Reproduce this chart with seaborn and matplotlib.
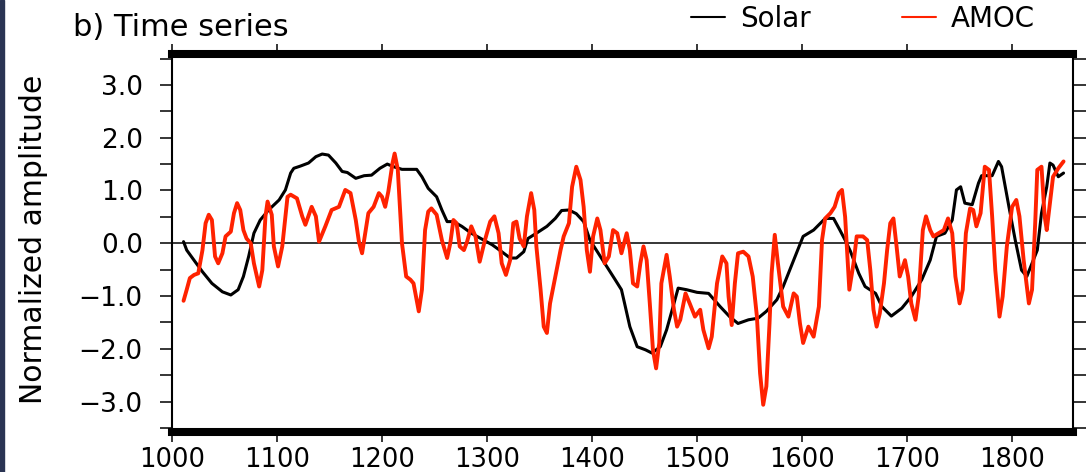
import numpy as np
import pandas as pd
import matplotlib
matplotlib.use("Agg")
import matplotlib.pyplot as plt
import seaborn as sns
from matplotlib.ticker import MultipleLocator, FuncFormatter
from matplotlib.patches import Rectangle

# Solar (чорна крива)
solar_years = [1011, 1014, 1022, 1029, 1038, 1048, 1056, 1063, 1068, 1073,
               1078, 1084, 1092, 1102, 1108, 1113, 1116, 1122, 1130, 1137,
               1143, 1149, 1156, 1162, 1167, 1175, 1183, 1190, 1198, 1205,
               1211, 1219, 1226, 1233, 1238, 1244, 1252, 1257, 1262, 1268,
               1276, 1285, 1295, 1305, 1314, 1322, 1328, 1335, 1339, 1347,
               1357, 1365, 1371, 1378, 1385, 1392, 1398, 1406, 1414, 1422,
               1428, 1431, 1436, 1443, 1451, 1457, 1465, 1471, 1478, 1482,
               1490, 1500, 1511, 1522, 1531, 1539, 1549, 1558, 1566, 1576,
               1582, 1592, 1601, 1611, 1622, 1630, 1636, 1641, 1646, 1654,
               1660, 1670, 1676, 1685, 1695, 1704, 1714, 1722, 1728, 1736,
               1743, 1747, 1751, 1755, 1762, 1768, 1771, 1781, 1787, 1790,
               1797, 1803, 1809, 1814, 1819, 1824, 1828, 1833, 1836, 1839,
               1844, 1849]
solar_vals = [0.03, -0.13, -0.35, -0.54, -0.76, -0.92, -0.98, -0.88, -0.63, -0.25,
              0.19, 0.44, 0.63, 0.82, 1.01, 1.33, 1.42, 1.46, 1.52, 1.64,
              1.69, 1.67, 1.52, 1.36, 1.34, 1.23, 1.28, 1.29, 1.42, 1.50,
              1.45, 1.40, 1.40, 1.40, 1.26, 1.04, 0.88, 0.63, 0.41, 0.41,
              0.32, 0.19, 0.08, -0.03, -0.16, -0.28, -0.28, -0.16, 0.09, 0.19,
              0.32, 0.47, 0.62, 0.63, 0.56, 0.41, 0.06, -0.19, -0.44, -0.69,
              -0.88, -1.14, -1.58, -1.96, -2.02, -2.08, -1.96, -1.64, -1.14, -0.85,
              -0.88, -0.93, -0.95, -1.20, -1.39, -1.52, -1.45, -1.42, -1.29, -1.07,
              -0.82, -0.32, 0.13, 0.25, 0.47, 0.47, 0.25, 0.06, -0.15, -0.57,
              -0.82, -0.95, -1.20, -1.38, -1.23, -1.01, -0.69, -0.32, 0.13, 0.19,
              0.44, 1.01, 1.07, 0.76, 0.73, 1.14, 1.28, 1.28, 1.55, 1.45,
              0.69, 0.06, -0.51, -0.63, -0.38, -0.13, 0.57, 1.07, 1.52, 1.48,
              1.26, 1.33]

# AMOC (червона крива)
amoc_years = [1011, 1014, 1017, 1021, 1025, 1029, 1032, 1035, 1038, 1041,
              1044, 1048, 1051, 1056, 1059, 1062, 1065, 1068, 1071, 1075,
              1078, 1083, 1086, 1089, 1091, 1095, 1097, 1101, 1105, 1110,
              1113, 1119, 1124, 1127, 1133, 1137, 1140, 1146, 1152, 1159,
              1165, 1170, 1175, 1178, 1181, 1184, 1187, 1192, 1197, 1200,
              1203, 1206, 1210, 1212, 1215, 1219, 1223, 1227, 1230, 1235,
              1238, 1241, 1244, 1247, 1252, 1257, 1262, 1265, 1268, 1271,
              1274, 1278, 1281, 1285, 1289, 1293, 1298, 1303, 1307, 1311,
              1314, 1318, 1322, 1325, 1328, 1331, 1335, 1338, 1342, 1345,
              1347, 1351, 1354, 1357, 1360, 1365, 1370, 1373, 1378, 1381,
              1385, 1389, 1392, 1395, 1398, 1401, 1405, 1408, 1412, 1416,
              1420, 1424, 1428, 1433, 1436, 1439, 1443, 1446, 1449, 1452,
              1455, 1458, 1461, 1464, 1466, 1471, 1474, 1478, 1481, 1484,
              1489, 1493, 1498, 1503, 1506, 1511, 1514, 1519, 1524, 1528,
              1530, 1533, 1536, 1539, 1544, 1549, 1553, 1557, 1560, 1563,
              1566, 1569, 1571, 1574, 1577, 1582, 1587, 1592, 1595, 1598,
              1601, 1606, 1611, 1616, 1619, 1622, 1627, 1631, 1635, 1638,
              1641, 1645, 1649, 1652, 1658, 1662, 1665, 1668, 1671, 1674,
              1678, 1681, 1684, 1687, 1690, 1693, 1698, 1701, 1704, 1708,
              1711, 1715, 1718, 1722, 1725, 1730, 1735, 1739, 1743, 1746,
              1750, 1753, 1756, 1760, 1763, 1766, 1770, 1774, 1778, 1781,
              1784, 1788, 1791, 1795, 1800, 1804, 1807, 1811, 1816, 1819,
              1822, 1824, 1828, 1831, 1833, 1836, 1839, 1844, 1849]
amoc_vals = [-1.09, -0.88, -0.66, -0.60, -0.57, -0.13, 0.38, 0.54, 0.44, -0.25,
             -0.38, -0.19, 0.13, 0.22, 0.57, 0.76, 0.63, 0.25, 0.09, 0.00,
             -0.38, -0.82, -0.51, 0.51, 0.79, 0.54, -0.06, -0.44, -0.06, 0.88,
             0.92, 0.85, 0.51, 0.35, 0.69, 0.51, 0.03, 0.32, 0.63, 0.69,
             1.01, 0.95, 0.44, 0.03, -0.19, 0.19, 0.57, 0.69, 0.95, 0.88,
             0.69, 0.98, 1.52, 1.70, 1.40, 0.00, -0.63, -0.69, -0.76, -1.29,
             -0.88, 0.25, 0.60, 0.66, 0.54, 0.06, -0.28, 0.00, 0.44, 0.38,
             -0.06, -0.13, 0.03, 0.32, 0.13, -0.35, 0.06, 0.41, 0.51, 0.19,
             -0.38, -0.60, -0.32, 0.38, 0.41, 0.09, -0.06, 0.51, 0.95, 0.63,
             -0.06, -0.88, -1.58, -1.70, -1.14, -0.63, -0.13, 0.13, 0.38, 1.07,
             1.45, 1.20, 0.69, -0.13, -0.54, 0.13, 0.47, 0.25, -0.38, -0.25,
             0.25, 0.19, -0.19, 0.19, -0.13, -0.76, -0.82, -0.38, -0.06, -0.32,
             -1.14, -2.02, -2.37, -1.89, -0.76, -0.22, -0.63, -1.26, -1.58, -1.45,
             -0.95, -1.14, -1.39, -1.26, -1.64, -1.99, -1.77, -0.76, -0.25, -0.38,
             -1.01, -1.55, -0.76, -0.19, -0.16, -0.25, -0.63, -1.39, -2.46, -3.06,
             -2.71, -1.52, -0.57, 0.16, -0.38, -1.20, -1.39, -0.95, -1.01, -1.52,
             -1.89, -1.58, -1.77, -1.20, 0.06, 0.47, 0.57, 0.69, 0.95, 1.01,
             0.50, -0.88, -0.38, 0.13, 0.13, 0.06, -0.51, -1.26, -1.58, -1.33,
             -0.76, -0.13, 0.38, 0.47, -0.06, -0.63, -0.32, -0.63, -1.14, -1.45,
             -1.01, 0.25, 0.51, 0.25, 0.13, 0.19, 0.25, 0.47, 0.19, -0.63,
             -1.14, -0.88, 0.19, 0.66, 0.63, 0.32, 0.57, 1.45, 1.39, 0.51,
             -0.51, -1.39, -1.01, -0.06, 0.69, 0.82, 0.51, -0.32, -1.14, -0.88,
             0.38, 1.39, 1.45, 0.51, 0.25, 0.76, 1.26, 1.42, 1.55]

x_ticks = [1000, 1100, 1200, 1300, 1400, 1500, 1600, 1700, 1800]
x_range = (1000, 1858)
y_range = (-3.5, 3.5)

sns.set_theme(style="white")
plt.rcParams['font.family'] = ['DejaVu Sans']
plt.rcParams.update({'text.color': 'black', 'axes.labelcolor': 'black',
                     'xtick.color': 'black', 'ytick.color': 'black',
                     'axes.edgecolor': 'black'})

W, H = 1088, 472
fig = plt.figure(figsize=(W / 100, H / 100), dpi=100)
fig.patch.set_facecolor('white')
ax = fig.add_axes([172 / W, 1 - 428 / H, (1073 - 172) / W, (428 - 58.5) / H])

solar_df = pd.DataFrame({'year': solar_years, 'val': solar_vals})
amoc_df = pd.DataFrame({'year': amoc_years, 'val': amoc_vals})

ax.axhline(0, color='black', lw=1.1, zorder=1)
sns.lineplot(data=solar_df, x='year', y='val', ax=ax, color='black', lw=2.2,
             label='Solar', sort=False, estimator=None, zorder=3)
sns.lineplot(data=amoc_df, x='year', y='val', ax=ax, color='#ff2200', lw=2.8,
             label='AMOC', sort=False, estimator=None, zorder=4)

ax.set_xlim(*x_range)
ax.set_ylim(*y_range)
ax.set_xticks(x_ticks)
ax.yaxis.set_major_locator(MultipleLocator(1.0))
ax.yaxis.set_minor_locator(MultipleLocator(0.5))
ax.yaxis.set_major_formatter(FuncFormatter(lambda v, p: f"{v:.1f}".replace('-', '\u2212')))
ax.set_xlabel('')

ax.tick_params(axis='x', which='major', direction='out', length=7, width=1.1,
               top=True, bottom=True, labeltop=False, labelsize=18.5, pad=3.5)
ax.tick_params(axis='y', which='both', direction='out', length=9, width=1.1,
               left=True, right=True, labelsize=19, pad=12)

for s in ['top', 'bottom']:
    ax.spines[s].set_linewidth(5.8)
    ax.spines[s].set_position(('outward', 2.9))
for s in ['left', 'right']:
    ax.spines[s].set_linewidth(1.5)

ax.set_ylabel('Normalized amplitude', fontsize=21.5)
ax.yaxis.set_label_coords(-0.1376, 0.51)

ax.text(-0.11, 1.083, 'b) Time series', transform=ax.transAxes,
        fontsize=22, ha='left', va='center')

leg = ax.legend(loc='center right', bbox_to_anchor=(0.958, 1.107), ncol=2,
                frameon=False, fontsize=20, handlelength=1.2, handletextpad=0.55,
                columnspacing=3.3, borderpad=0, borderaxespad=0)
for ln in leg.get_lines():
    ln.set_linewidth(1.5)

# темна смуга зліва (рамка панелі)
fig.patches.append(Rectangle((0, 0), 4 / W, 1, transform=fig.transFigure,
                             color='#2a3453', zorder=10))

fig.savefig('out.png', dpi=100)
plt.close(fig)
